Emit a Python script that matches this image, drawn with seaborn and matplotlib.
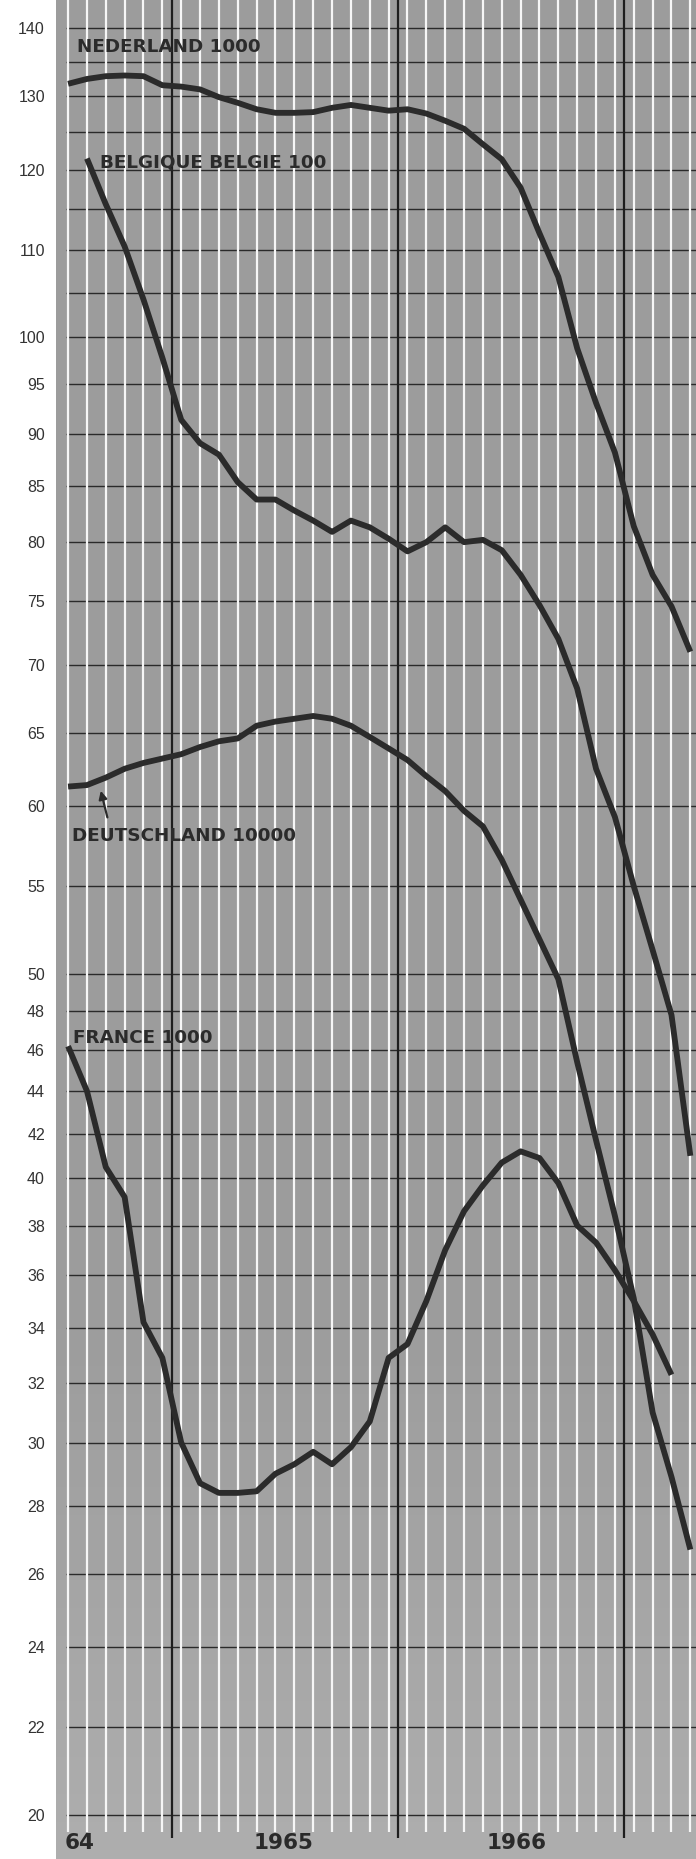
import numpy as np
import pandas as pd
import matplotlib
matplotlib.use("Agg")
import matplotlib.pyplot as plt
import matplotlib.ticker as mticker
import seaborn as sns

# Monthly positions: 0 = July 1964 ... 33 = April 1967
months = list(range(34))

nederland = [131.8, 132.5, 132.9, 133.0, 132.9, 131.6, 131.4, 131.0, 129.9, 129.1,
             128.2, 127.7, 127.7, 127.8, 128.4, 128.8, 128.4, 128.0, 128.2, 127.6,
             126.6, 125.5, 123.4, 121.4, 117.7, 112.0, 106.8, 98.8, 93.1, 88.2,
             81.4, 77.2, 74.6, 71.0]
# starts one month later
belgique = [121.5, 115.6, 110.4, 104.2, 97.8, 91.4, 89.1, 88.0, 85.4, 83.8,
            83.8, 82.8, 81.9, 80.9, 81.9, 81.3, 80.3, 79.2, 80.0, 81.3,
            80.0, 80.2, 79.3, 77.2, 74.7, 72.0, 68.2, 62.5, 59.3, 55.0,
            51.3, 47.8, 41.0]
deutschland = [61.3, 61.4, 61.9, 62.5, 62.9, 63.2, 63.5, 64.0, 64.4, 64.6,
               65.5, 65.8, 66.0, 66.2, 66.0, 65.5, 64.7, 63.9, 63.1, 62.0,
               61.0, 59.7, 58.7, 56.6, 54.2, 51.9, 49.7, 45.4, 41.7, 38.4,
               35.1, 31.0, 28.9, 26.7]
# ends one month earlier
france = [46.2, 44.0, 40.5, 39.2, 34.2, 32.9, 30.0, 28.7, 28.4, 28.4,
          28.45, 29.0, 29.3, 29.7, 29.3, 29.85, 30.7, 32.9, 33.4, 35.0,
          37.0, 38.6, 39.7, 40.7, 41.2, 40.9, 39.8, 38.0, 37.3, 36.2,
          35.0, 33.75, 32.3]

y_labels = [140, 130, 120, 110, 100, 95, 90, 85, 80, 75, 70, 65, 60, 55, 50,
            48, 46, 44, 42, 40, 38, 36, 34, 32, 30, 28, 26, 24, 22, 20]
y_unlabelled = [135, 125, 115, 105]
year_breaks = [5.5, 17.5, 29.5]
year_names = ["64", "1965", "1966"]
year_pos = [0.6, 11.4, 23.8]

names = ["NEDERLAND 1000", "BELGIQUE BELGIE 100", "DEUTSCHLAND 10000", "FRANCE 1000"]

frames = [
    pd.DataFrame({"month": months, "value": nederland, "country": names[0]}),
    pd.DataFrame({"month": months[1:], "value": belgique, "country": names[1]}),
    pd.DataFrame({"month": months, "value": deutschland, "country": names[2]}),
    pd.DataFrame({"month": months[:-1], "value": france, "country": names[3]}),
]
df = pd.concat(frames, ignore_index=True)

sns.set_style("white")
plt.rcParams["font.family"] = ["DejaVu Sans"]

W, H = 696, 1859
fig = plt.figure(figsize=(W / 100, H / 100), dpi=100)
rect = [56 / W, 0, 640 / W, 1]

# paper background, a bit lighter towards the bottom
bg = fig.add_axes(rect, zorder=0)
shade = np.concatenate([np.full(140, 0.61), np.linspace(0.61, 0.68, 60)])
bg.imshow(shade[:, None], aspect="auto", cmap="gray", vmin=0, vmax=1,
          extent=[0, 1, 0, 1], origin="upper")
bg.axis("off")

ax = fig.add_axes(rect, zorder=1)
ax.set_facecolor("none")
ax.set_yscale("log")
XMIN, XMAX = -0.64, 33.3
YMIN, YMAX = 19.06, 144.4

# grid
ax.hlines(y_labels + y_unlabelled, -0.1, XMAX, color="#2a2a2a", lw=1.0, zorder=2)
ax.vlines(months, 19.62, YMAX, color="#f6f6f6", lw=1.6, zorder=3)
ax.vlines(year_breaks, 19.5, YMAX, color="#1e1e1e", lw=1.6, zorder=4)

sns.lineplot(data=df, x="month", y="value", hue="country",
             palette=["#2b2b2b"] * 4, linewidth=4.2, legend=False,
             estimator=None, sort=False, ax=ax, zorder=5,
             solid_capstyle="butt", solid_joinstyle="round")

ax.set_xlim(XMIN, XMAX)
ax.set_ylim(YMIN, YMAX)

ax.set_yticks(y_labels)
ax.set_yticklabels([str(v) for v in y_labels], family="Liberation Sans")
ax.yaxis.set_minor_locator(mticker.NullLocator())
ax.tick_params(axis="y", length=0, pad=8, labelsize=11.5, labelcolor="#333333")
ax.set_xticks([])
ax.set_xlabel("")
ax.set_ylabel("")
for s in ax.spines.values():
    s.set_visible(False)

# series labels
lab_kw = dict(fontsize=13.2, fontweight="bold", color="#2b2b2b", ha="left",
              va="center", zorder=6)
ax.text(0.48, 137.2, names[0], **lab_kw)
ax.text(1.70, 121.0, names[1], **lab_kw)
ax.text(0.21, 58.07, names[2], **lab_kw)
ax.text(0.27, 46.6, names[3], **lab_kw)
ax.annotate("", xy=(1.70, 61.2), xytext=(2.12, 59.1),
            arrowprops=dict(arrowstyle="-|>", color="#2b2b2b", lw=1.6,
                            mutation_scale=12), zorder=6)

for name, pos in zip(year_names, year_pos):
    ax.text(pos, 19.4, name, ha="center", va="center", fontsize=15.5,
            fontweight="bold", color="#2a2a2a", zorder=6)

fig.savefig("out.png", dpi=100)
